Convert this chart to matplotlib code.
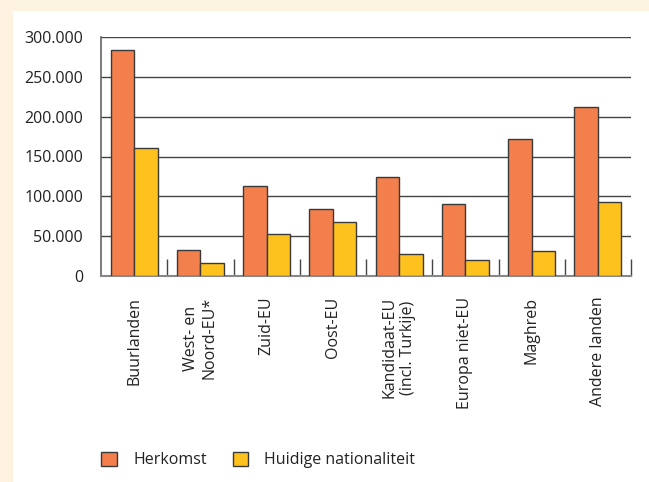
import numpy as np
import matplotlib.pyplot as plt
from matplotlib.patches import Rectangle

plt.rcParams['font.family'] = ['Open Sans', 'DejaVu Sans']

categories = ["Buurlanden", "West- en\nNoord-EU*", "Zuid-EU", "Oost-EU",
              "Kandidaat-EU\n(incl. Turkije)", "Europa niet-EU", "Maghreb", "Andere landen"]
herkomst = [284000, 33000, 113000, 84500, 124500, 90000, 171500, 212000]
nationaliteit = [160500, 16000, 53000, 68000, 27000, 19700, 31000, 92500]
yticks = [0, 50000, 100000, 150000, 200000, 250000, 300000]
ylabels = ["0", "50.000", "100.000", "150.000", "200.000", "250.000", "300.000"]

orange = "#F37F4C"
yellow = "#FEC21F"
cream = "#FEF2E0"
txt = "#222222"
fs = 11.5

fig = plt.figure(figsize=(6.49, 4.82), dpi=100)
fig.patch.set_facecolor(cream)
# white panel
panel = Rectangle((13/649, 0), 1, 1 - 11/482, transform=fig.transFigure,
                  facecolor="white", edgecolor="none", zorder=-10)
fig.add_artist(panel)

ax = fig.add_axes([101/649, 1 - 276/482, 530/649, 239/482])
ax.set_facecolor("white")
ax.set_zorder(1)

x = np.arange(len(categories))
w = 0.353
ax.bar(x - w/2, herkomst, w, color=orange, edgecolor="#3a3a3a", linewidth=1.0, zorder=3, label="Herkomst")
ax.bar(x + w/2, nationaliteit, w, color=yellow, edgecolor="#3a3a3a", linewidth=1.0, zorder=3, label="Huidige nationaliteit")

ax.set_xlim(-0.5, len(categories) - 0.5)
ax.set_ylim(0, 300000)
for y in yticks[1:]:
    ax.axhline(y, color="#444444", linewidth=1.0, zorder=1)

ax.set_yticks(yticks)
ax.set_yticklabels(ylabels, fontsize=fs, color=txt)
ax.tick_params(axis="y", length=0, pad=13)

# category separators as inward ticks
ax.set_xticks(np.arange(len(categories)) + 0.5)
ax.set_xticklabels([])
ax.tick_params(axis="x", direction="in", length=12, width=1, color="#444444")
ax.set_xticks(x, minor=True)
ax.set_xticklabels(categories, minor=True, rotation=90, fontsize=fs, color=txt,
                   va="top", ha="center", linespacing=1.2)
ax.tick_params(axis="x", which="minor", length=0, pad=15)

for s in ["top", "right"]:
    ax.spines[s].set_visible(False)
ax.spines["left"].set_color("#666666")
ax.spines["bottom"].set_color("#888888")
ax.spines["left"].set_linewidth(1.2)
ax.spines["bottom"].set_linewidth(1.5)

handles = [Rectangle((0, 0), 1, 1, facecolor=orange, edgecolor="#3a3a3a"),
           Rectangle((0, 0), 1, 1, facecolor=yellow, edgecolor="#3a3a3a")]
fig.legend(handles, ["Herkomst", "Huidige nationaliteit"], loc="center left",
           bbox_to_anchor=(87/649, 1 - 460/482), ncol=2, frameon=False,
           fontsize=fs, handlelength=1.0, handleheight=1.0, handletextpad=1.0,
           columnspacing=1.6, labelcolor=txt)

fig.savefig("out.png", dpi=100, facecolor=cream)
